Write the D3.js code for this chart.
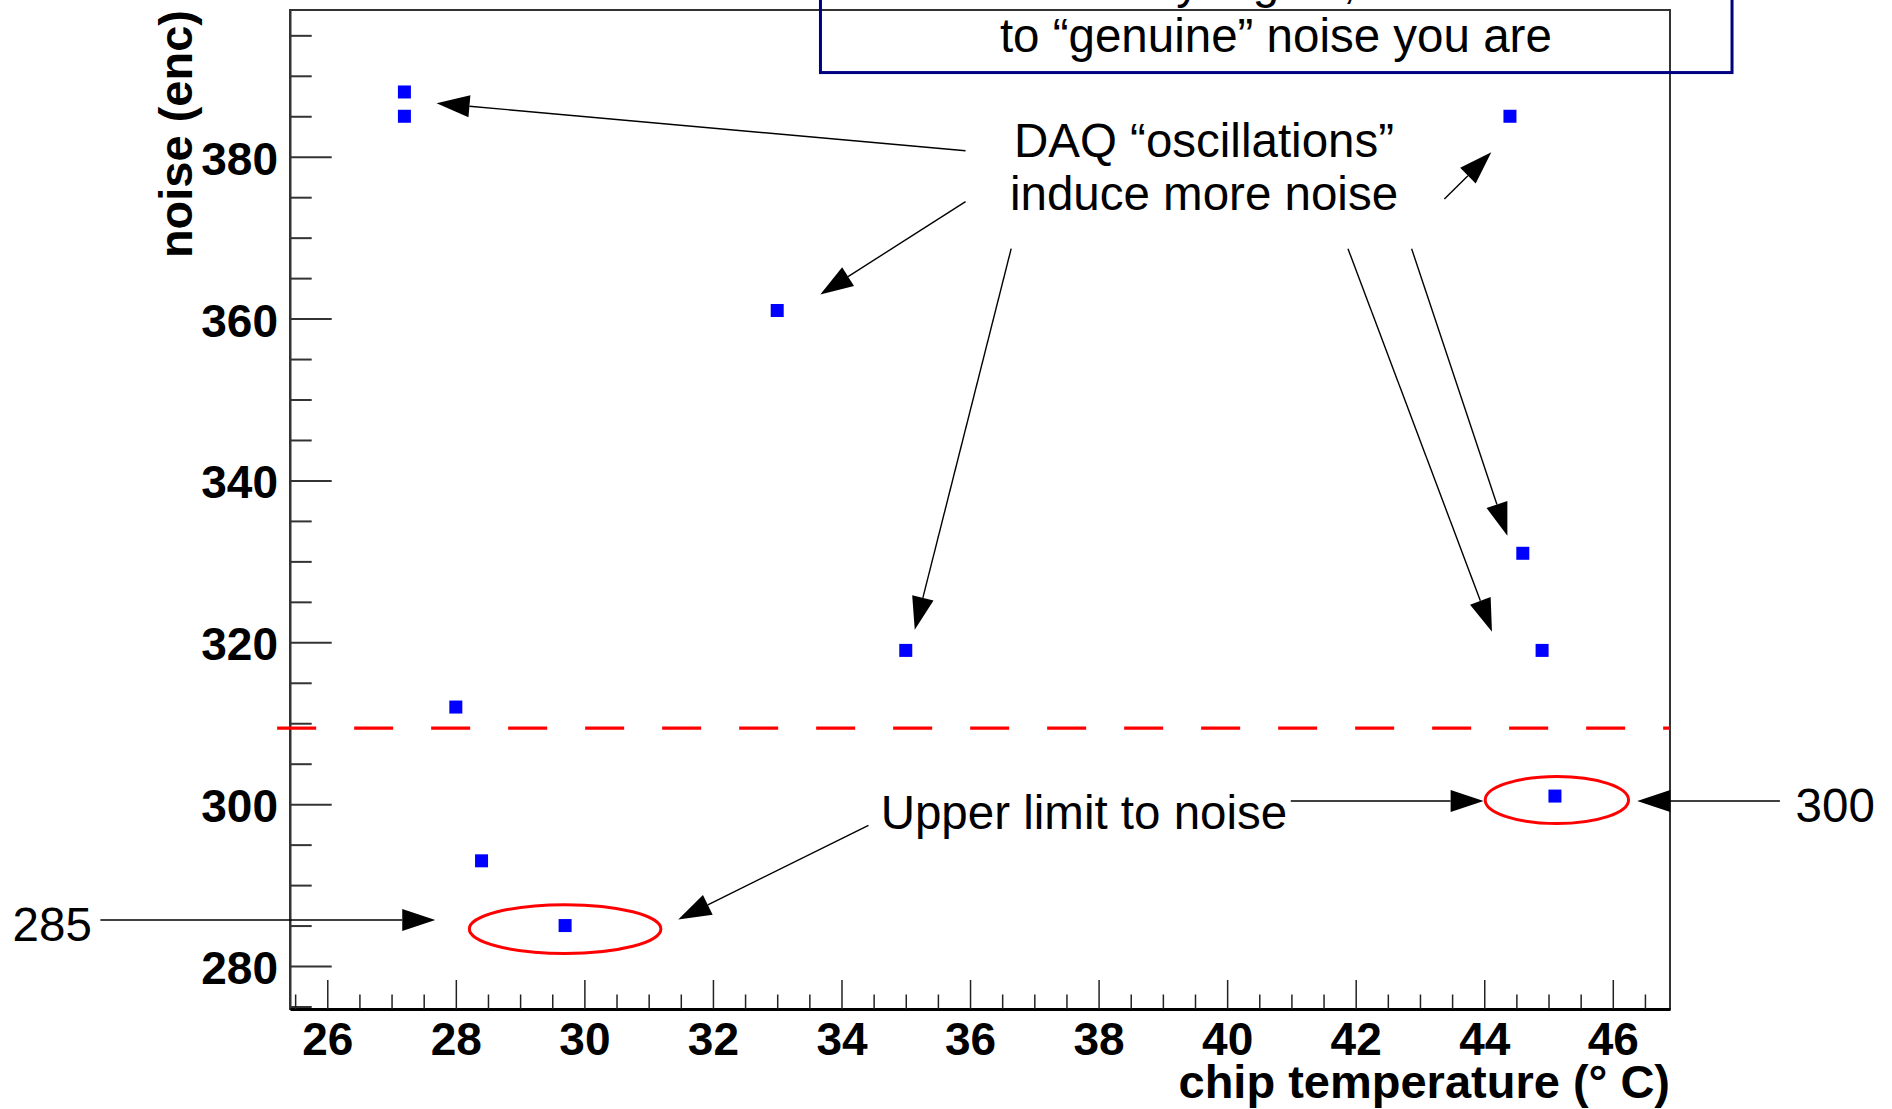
<!DOCTYPE html>
<html><head><meta charset="utf-8">
<script src="https://cdn.jsdelivr.net/npm/d3@7"></script>
<style>
body{margin:0;background:#fff}
svg{display:block}
text{font-family:"Liberation Sans",Arial,Helvetica,sans-serif}
</style>
</head><body>
<svg id="chart" width="1892" height="1109"></svg>
<script>
// ---- data ----
const temperature = [27.2, 27.2, 28.0, 28.4, 29.7, 33.0, 35.0, 44.4, 44.6, 44.9, 45.1];
const noise       = [388, 385, 312, 293, 285, 361, 319, 385, 331, 319, 301];
const xMajorTicks = [26, 28, 30, 32, 34, 36, 38, 40, 42, 44, 46];
const yMajorTicks = [280, 300, 320, 340, 360, 380];
const xTitle = "chip temperature (\u00B0 C)";
const yTitle = "noise (enc)";
const noiseLimit = 309.4;
const boxLines = ["as set by a gain,", "to \u201Cgenuine\u201D noise you are"];
const daqLines = ["DAQ \u201Coscillations\u201D", "induce more noise"];
const limitLabel = "Upper limit to noise";
const lowLabel = "285";
const highLabel = "300";

// annotation anchors in data units [x, y]
const daqArrows = [
  [[35.93, 380.73], [27.70, 386.60]],
  [[35.93, 374.46], [33.67, 362.99]],
  [[36.64, 368.64], [35.14, 321.54]],
  [[43.38, 374.77], [44.11, 380.54]],
  [[41.88, 368.64], [44.12, 321.31]],
  [[42.87, 368.64], [44.36, 333.17]]
];
const limitArrows = [
  [[34.42, 297.38], [31.46, 285.76]],
  [[40.99, 300.39], [43.99, 300.39]],
  [[22.47, 285.68], [27.68, 285.68]],
  [[48.60, 300.39], [46.38, 300.39]]
];
const ellipses = [ // cx, cy, rx, ry (data units)
  [29.70, 284.57, 1.49, 3.015],
  [45.13, 300.51, 1.115, 2.904]
];

// ---- layout ----
const W = 1892, H = 1109;
const L = 290, R = 1670, T = 10, B = 1009;
const svg = d3.select("#chart");

const x = d3.scaleLinear().domain([25.42, 46.89]).range([L, R]);
const y = d3.scaleLinear().domain([274.69, 398.13]).range([B, T]);

const xMinor = d3.range(25.5, 46.9, 0.5).filter(v => Math.abs(v - Math.round(v/2)*2) > 1e-6);
const yMinor = d3.range(275, 398, 5).filter(v => v % 20 !== 0);

// frame
svg.append("rect").attr("x", L).attr("y", T).attr("width", R - L).attr("height", B - T)
  .attr("fill", "none").attr("stroke", "#333").attr("stroke-width", 2);

// y axis
const yAx = svg.append("g").attr("transform", `translate(${L},0)`)
  .call(d3.axisLeft(y).tickValues(yMajorTicks).tickSize(-41.7).tickSizeOuter(0).tickPadding(12).tickFormat(d3.format("d")));
yAx.select(".domain").attr("stroke", "#333").attr("stroke-width", 2);
yAx.selectAll(".tick line").attr("stroke", "#333").attr("stroke-width", 2);
yAx.selectAll(".tick text").attr("font-size", 46).attr("font-weight", "bold").attr("fill", "#000")
  .attr("font-family", "'Liberation Sans',Arial,sans-serif").attr("dy", "0.38em");
const yAxMinor = svg.append("g").attr("transform", `translate(${L},0)`)
  .call(d3.axisLeft(y).tickValues(yMinor).tickSize(-21.7).tickSizeOuter(0).tickFormat(""));
yAxMinor.select(".domain").remove();
yAxMinor.selectAll(".tick line").attr("stroke", "#333").attr("stroke-width", 2);

// x axis
const xAx = svg.append("g").attr("transform", `translate(0,${B})`)
  .call(d3.axisBottom(x).tickValues(xMajorTicks).tickSize(-29).tickSizeOuter(0).tickPadding(13).tickFormat(d3.format("d")));
xAx.select(".domain").attr("stroke", "#000").attr("stroke-width", 3);
xAx.selectAll(".tick line").attr("stroke", "#222").attr("stroke-width", 1.5);
xAx.selectAll(".tick text").attr("font-size", 46).attr("font-weight", "bold").attr("fill", "#000")
  .attr("font-family", "'Liberation Sans',Arial,sans-serif");
const xAxMinor = svg.append("g").attr("transform", `translate(0,${B})`)
  .call(d3.axisBottom(x).tickValues(xMinor).tickSize(-14.5).tickSizeOuter(0).tickFormat(""));
xAxMinor.select(".domain").remove();
xAxMinor.selectAll(".tick line").attr("stroke", "#222").attr("stroke-width", 1.5);

// axis titles
svg.append("text").attr("x", R).attr("y", 1098).attr("text-anchor", "end")
  .attr("font-size", 47).attr("font-weight", "bold").text(xTitle);
svg.append("text").attr("transform", `translate(192,${T}) rotate(-90)`).attr("text-anchor", "end")
  .attr("font-size", 47).attr("font-weight", "bold").text(yTitle);

// dashed limit line
svg.append("line").attr("x1", x(25.22)).attr("x2", R).attr("y1", y(noiseLimit)).attr("y2", y(noiseLimit))
  .attr("stroke", "#ff0000").attr("stroke-width", 3.2).attr("stroke-dasharray", "39 38");

// markers
const ms = 13;
svg.append("g").selectAll("rect").data(temperature).join("rect")
  .attr("x", (d, i) => x(d) - ms/2).attr("y", (d, i) => y(noise[i]) - ms/2)
  .attr("width", ms).attr("height", ms).attr("fill", "#0000ff");

// top box (partially off-canvas)
svg.append("rect").attr("x", x(33.673)).attr("y", y(402.5))
  .attr("width", x(47.855) - x(33.673)).attr("height", y(390.40) - y(402.5))
  .attr("fill", "none").attr("stroke", "#000080").attr("stroke-width", 3);
svg.append("text").attr("x", x(42.003)).attr("y", y(399.61)).attr("text-anchor", "end")
  .attr("font-size", 47.5).text(boxLines[0]);
svg.append("text").attr("x", x(40.758)).attr("y", y(392.97)).attr("text-anchor", "middle")
  .attr("font-size", 47.5).text(boxLines[1]);

// DAQ text
svg.append("text").attr("x", x(39.64)).attr("y", y(380.0)).attr("text-anchor", "middle")
  .attr("font-size", 47.5).text(daqLines[0]);
svg.append("text").attr("x", x(39.64)).attr("y", y(373.41)).attr("text-anchor", "middle")
  .attr("font-size", 47.5).text(daqLines[1]);
svg.append("text").attr("x", x(37.772)).attr("y", y(296.93)).attr("text-anchor", "middle")
  .attr("font-size", 47.5).text(limitLabel);
svg.append("text").attr("x", x(21.72)).attr("y", y(283.09)).attr("text-anchor", "middle")
  .attr("font-size", 47.5).text(lowLabel);
svg.append("text").attr("x", x(49.461)).attr("y", y(297.83)).attr("text-anchor", "middle")
  .attr("font-size", 47.5).text(highLabel);

// ellipses
svg.append("g").selectAll("ellipse").data(ellipses).join("ellipse")
  .attr("cx", d => x(d[0])).attr("cy", d => y(d[1]))
  .attr("rx", d => x(d[0] + d[2]) - x(d[0])).attr("ry", d => y(d[1] - d[3]) - y(d[1]))
  .attr("fill", "none").attr("stroke", "#ff0000").attr("stroke-width", 3);

// arrows
function arrow(a) {
  const x0 = x(a[0][0]), y0 = y(a[0][1]), x1 = x(a[1][0]), y1 = y(a[1][1]);
  const dx = x1 - x0, dy = y1 - y0, len = Math.hypot(dx, dy);
  const ux = dx / len, uy = dy / len, hl = 33, hw = 11;
  const bx = x1 - ux * hl, by = y1 - uy * hl;
  svg.append("line").attr("x1", x0).attr("y1", y0).attr("x2", bx).attr("y2", by)
    .attr("stroke", "#000").attr("stroke-width", 1.4);
  svg.append("path")
    .attr("d", `M${x1},${y1}L${bx - uy*hw},${by + ux*hw}L${bx + uy*hw},${by - ux*hw}Z`)
    .attr("fill", "#000");
}
daqArrows.forEach(arrow);
limitArrows.forEach(arrow);
</script>
</body></html>
